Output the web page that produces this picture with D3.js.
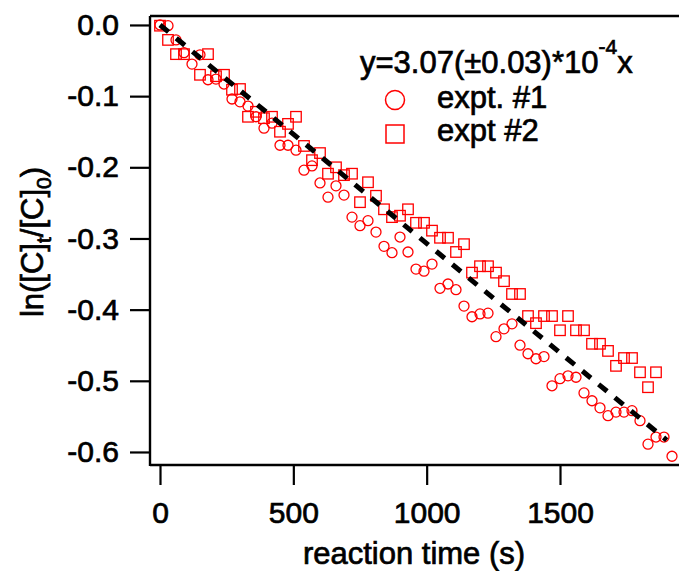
<!DOCTYPE html>
<html>
<head>
<meta charset="utf-8">
<script src="https://cdn.jsdelivr.net/npm/d3@7"></script>
<style>
  html, body { margin: 0; padding: 0; background: #fff; }
  svg { display: block; font-family: "Liberation Sans", Arial, sans-serif; }
  svg text { stroke: #000; stroke-width: 0.7px; paint-order: stroke; }
</style>
</head>
<body>
<svg id="chart" width="679" height="571"></svg>
<script>
// ---- data ----
const times1 = [0,30,60,90,120,150,180,210,240,270,300,330,360,390,420,450,480,510,540,570,
  600,630,660,690,720,750,780,810,840,870,900,930,960,990,1020,1050,1080,1110,1140,1170,
  1200,1230,1260,1290,1320,1350,1380,1410,1440,1470,1500,1530,1560,1590,1620,1650,1680,1710,1740,1770,
  1800,1830,1860,1890,1920];
const expt1 = [0.000,-0.001,-0.021,-0.039,-0.055,-0.042,-0.077,-0.076,-0.083,-0.104,
  -0.108,-0.114,-0.129,-0.145,-0.138,-0.169,-0.169,-0.176,-0.204,-0.198,
  -0.222,-0.242,-0.226,-0.239,-0.270,-0.282,-0.275,-0.291,-0.311,-0.320,
  -0.298,-0.319,-0.343,-0.346,-0.336,-0.370,-0.364,-0.372,-0.395,-0.410,
  -0.406,-0.405,-0.438,-0.427,-0.420,-0.450,-0.462,-0.469,-0.466,-0.507,
  -0.497,-0.493,-0.495,-0.517,-0.528,-0.538,-0.549,-0.544,-0.544,-0.542,
  -0.556,-0.589,-0.579,-0.579,-0.606];
const times2 = [0,30,60,90,150,180,210,240,270,300,330,360,390,420,450,480,510,540,570,
  600,630,660,690,720,750,780,810,840,870,900,930,960,990,1020,1050,1080,1110,1140,1170,
  1200,1230,1260,1290,1320,1350,1380,1410,1440,1470,1500,1530,1560,1590,1620,1650,1680,1710,1740,1770,
  1800,1830,1860];
const expt2 = [-0.001,-0.021,-0.041,-0.041,-0.070,-0.041,-0.072,-0.070,-0.091,
  -0.090,-0.129,-0.122,-0.131,-0.129,-0.150,-0.139,-0.129,-0.170,-0.190,
  -0.180,-0.209,-0.200,-0.211,-0.209,-0.249,-0.221,-0.240,-0.259,-0.270,
  -0.268,-0.259,-0.278,-0.278,-0.289,-0.299,-0.299,-0.319,-0.308,-0.348,
  -0.339,-0.339,-0.348,-0.360,-0.378,-0.378,-0.409,-0.419,-0.409,-0.409,
  -0.429,-0.409,-0.429,-0.429,-0.448,-0.448,-0.458,-0.479,-0.468,-0.468,
  -0.488,-0.509,-0.488];
const fitSlope = -3.07e-4;          // y = 3.07(±0.03)*10^-4 x  (as a decay)
const fitRange = [0, 1900];
const xTicks = [0, 500, 1000, 1500];
const yTicks = [0.0, -0.1, -0.2, -0.3, -0.4, -0.5, -0.6];
const legendLabels = ["expt. #1", "expt #2"];

// ---- drawing ----
const svg = d3.select("#chart");
const RED = "#ff0000";
const pLeft = 150, pRight = 680, pTop = 16, pBottom = 465;

const x = d3.scaleLinear().domain([-37.5, 1950]).range([pLeft, pRight]);
const y = d3.scaleLinear().domain([-0.6183, 0.0126]).range([pBottom, pTop]);

// axes
const yAxis = d3.axisLeft(y).tickValues(yTicks).tickSize(20).tickSizeOuter(0)
  .tickPadding(11).tickFormat(d => (d === 0 ? "0.0" : d.toFixed(1)));
const xAxis = d3.axisBottom(x).tickValues(xTicks).tickSize(20).tickSizeOuter(0)
  .tickPadding(17).tickFormat(d3.format("d"));

const gy = svg.append("g").attr("transform", `translate(${pLeft},0)`).call(yAxis);
const gx = svg.append("g").attr("transform", `translate(0,${pBottom})`).call(xAxis);
[gx, gy].forEach(g => {
  g.select(".domain").remove();
  g.selectAll(".tick line").attr("stroke", "#000").attr("stroke-width", 2.2);
  g.selectAll(".tick text").attr("fill", "#000")
    .style("font-size", "30px").style("font-family", "'Liberation Sans', Arial, sans-serif");
});

// frame
const frame = svg.append("g").attr("stroke", "#000").attr("stroke-width", 2.4).attr("fill", "none");
frame.append("line").attr("x1", pLeft).attr("x2", pLeft).attr("y1", pTop).attr("y2", pBottom + 1);
frame.append("line").attr("x1", pLeft).attr("x2", pRight).attr("y1", pBottom).attr("y2", pBottom);
frame.append("line").attr("x1", pLeft).attr("x2", pRight).attr("y1", pTop).attr("y2", pTop);

// markers
const plot = svg.append("g");
plot.selectAll("circle.e1").data(times1.map((t, i) => [t, expt1[i]])).join("circle")
  .attr("class", "e1")
  .attr("cx", d => x(d[0])).attr("cy", d => y(d[1])).attr("r", 5)
  .attr("fill", "none").attr("stroke", RED).attr("stroke-width", 1.3);
const sq = 10.5;
plot.selectAll("rect.e2").data(times2.map((t, i) => [t, expt2[i]])).join("rect")
  .attr("class", "e2")
  .attr("x", d => x(d[0]) - sq / 2).attr("y", d => y(d[1]) - sq / 2)
  .attr("width", sq).attr("height", sq)
  .attr("fill", "none").attr("stroke", RED).attr("stroke-width", 1.3);

// fit line
svg.append("path")
  .datum(fitRange.map(t => [t, fitSlope * t]))
  .attr("d", d3.line().x(d => x(d[0])).y(d => y(d[1])))
  .attr("fill", "none").attr("stroke", "#000").attr("stroke-width", 5)
  .attr("stroke-dasharray", "11,10");

// legend
const leg = svg.append("g").style("font-family", "'Liberation Sans', Arial, sans-serif");
const eq = leg.append("text").attr("x", 360).attr("y", 73).style("font-size", "31px").attr("fill", "#000");
eq.append("tspan").text("y=3.07(\u00b10.03)*10");
eq.append("tspan").attr("dy", -19).style("font-size", "21px").text("-4");
eq.append("tspan").attr("dy", 19).text("x");

leg.append("circle").attr("cx", 395).attr("cy", 100).attr("r", 9.5)
  .attr("fill", "none").attr("stroke", RED).attr("stroke-width", 1.5);
leg.append("rect").attr("x", 386).attr("y", 125).attr("width", 18).attr("height", 18)
  .attr("fill", "none").attr("stroke", RED).attr("stroke-width", 1.5);
leg.selectAll("text.lab").data(legendLabels).join("text").attr("class", "lab")
  .attr("x", 437).attr("y", (d, i) => 108 + i * 33)
  .style("font-size", "31px").attr("fill", "#000").text(d => d);

// axis titles
svg.append("text").attr("x", 414).attr("y", 564).attr("text-anchor", "middle")
  .style("font-size", "31px").attr("fill", "#000").text("reaction time (s)");

const yt = svg.append("text").attr("transform", "translate(43,242) rotate(-90)")
  .attr("text-anchor", "middle").style("font-size", "31px").attr("fill", "#000");
yt.append("tspan").text("ln([C]");
yt.append("tspan").attr("dy", 8).style("font-size", "21px").text("t");
yt.append("tspan").attr("dy", -8).text("/[C]");
yt.append("tspan").attr("dy", 8).style("font-size", "21px").text("0");
yt.append("tspan").attr("dy", -8).text(")");
</script>
</body>
</html>
